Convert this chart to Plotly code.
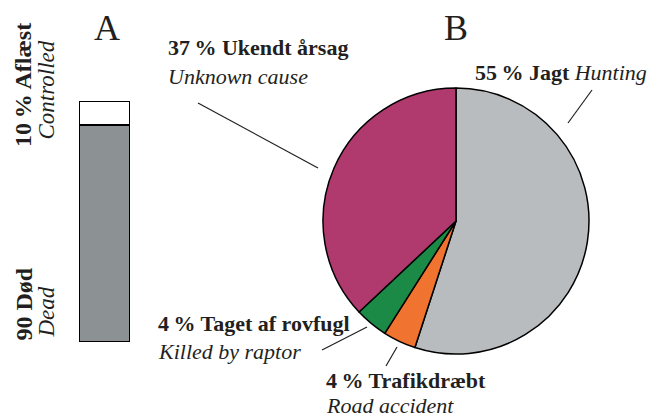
import plotly.graph_objects as go

# Data
bar_categories = ["Død", "Aflæst"]
bar_values = [90, 10]
bar_labels_dk = ["90 Død", "10\u2009% Aflæst"]
bar_labels_en = ["Dead", "Controlled"]

pie_categories = ["Jagt", "Trafikdræbt", "Taget af rovfugl", "Ukendt årsag"]
pie_values = [55, 4, 4, 37]
pie_labels_dk = ["55\u2009% Jagt", "4\u2009% Trafikdræbt", "4\u2009% Taget af rovfugl", "37\u2009% Ukendt årsag"]
pie_labels_en = ["Hunting", "Road accident", "Killed by raptor", "Unknown cause"]

W, H = 650, 417
FONT = "Liberation Serif, serif"
TXT = "#231f20"

bar_colors = ["#8c9194", "#ffffff"]
pie_colors = ["#b9bcbe", "#f07330", "#1a8a46", "#b03a6e"]

fig = go.Figure()

for cat, val, col in zip(bar_categories, bar_values, bar_colors):
    fig.add_trace(go.Bar(
        x=[0], y=[val], name=cat, marker=dict(color=col, line=dict(color="black", width=1.5)),
        width=1, xaxis="x", yaxis="y", showlegend=False, hoverinfo="skip"))

cx, cy, r = 456, 221, 133
fig.add_trace(go.Pie(
    labels=pie_categories, values=pie_values, sort=False, direction="clockwise", rotation=0,
    marker=dict(colors=pie_colors, line=dict(color="black", width=1.5)),
    textinfo="none", showlegend=False, hoverinfo="label+percent",
    domain=dict(x=[(cx - r) / W, (cx + r) / W], y=[(H - cy - r) / H, (H - cy + r) / H])))

def px(x):
    return x / W

def py(y):
    return 1 - y / H

annotations = []
def ann(text, x, y, size, xanchor="left", yanchor="middle", angle=0, bold=False, italic=False):
    if bold:
        text = "<b>" + text + "</b>"
    if italic:
        text = "<i>" + text + "</i>"
    annotations.append(dict(text=text, x=px(x), y=py(y), xref="paper", yref="paper",
                            xanchor=xanchor, yanchor=yanchor, textangle=angle, showarrow=False,
                            borderpad=0,
                            font=dict(family=FONT, size=size, color=TXT)))

ann("A", 107, 28, 36, xanchor="center")
ann("B", 456, 28, 36, xanchor="center")

# Bar labels (rotated)
ann(bar_labels_dk[1], 23, 148, 24, xanchor="center", yanchor="bottom", angle=-90, bold=True)
ann(bar_labels_en[1], 46, 141, 23, xanchor="center", yanchor="bottom", angle=-90, italic=True)
ann(bar_labels_dk[0], 23, 342, 24, xanchor="center", yanchor="bottom", angle=-90, bold=True)
ann(bar_labels_en[0], 46, 339, 23, xanchor="center", yanchor="bottom", angle=-90, italic=True)

# Pie labels
ann(pie_labels_dk[3], 167, 48, 22, bold=True)
ann(pie_labels_en[3], 167, 77, 22, italic=True)
ann("<b>" + pie_labels_dk[0] + "</b> <i>" + pie_labels_en[0] + "</i>", 474, 72, 22)
ann(pie_labels_dk[2], 157, 323, 22, bold=True)
ann(pie_labels_en[2], 157, 351, 22, italic=True)
ann(pie_labels_dk[1], 325, 380, 22, bold=True)
ann(pie_labels_en[1], 325, 405, 22, italic=True)

shapes = []
def line(x0, y0, x1, y1):
    shapes.append(dict(type="line", xref="paper", yref="paper", x0=px(x0), y0=py(y0),
                       x1=px(x1), y1=py(y1), line=dict(color=TXT, width=1.2)))

line(198, 103, 318, 168)
line(592, 90, 568, 123)
line(322, 350, 367, 327)
line(386, 366, 397, 347)

fig.update_layout(
    width=W, height=H, margin=dict(l=0, r=0, t=0, b=0),
    paper_bgcolor="white", plot_bgcolor="white", barmode="stack",
    xaxis=dict(domain=[79 / W, 130 / W], range=[-0.5, 0.5], visible=False, fixedrange=True),
    yaxis=dict(domain=[(H - 342) / H, (H - 101) / H], range=[0, 100], visible=False, fixedrange=True),
    annotations=annotations, shapes=shapes,
)

fig.write_html("out.html", config={"displayModeBar": False},
               post_script="document.body.style.margin='0';document.body.style.overflow='hidden';")
